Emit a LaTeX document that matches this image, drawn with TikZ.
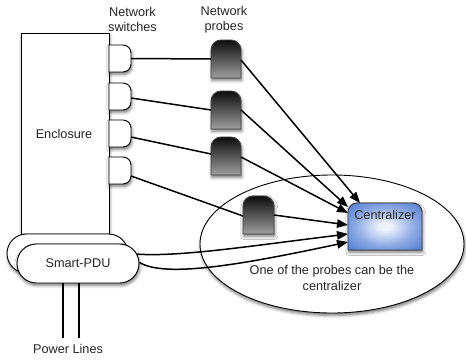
\documentclass[tikz,border=0pt]{standalone}
\usepackage{fontspec}
\setmainfont{Liberation Sans}
\usetikzlibrary{shapes.geometric,shapes.misc,arrows.meta,shadows.blur}
\definecolor{cwhite}{RGB}{238,242,253}
\definecolor{cmid}{RGB}{140,170,228}
\definecolor{cblue}{RGB}{62,108,204}
\pgfdeclareradialshading{centshade}{\pgfpoint{0bp}{0bp}}{color(0bp)=(cwhite); color(4bp)=(cwhite); color(20bp)=(cmid); color(40bp)=(cblue); color(75bp)=(cblue)}
% shape with rounded top corners, sharp bottom corners
% #1 name, #2 cx, #3 cy, #4 w, #5 h, #6 radius, #7 style
\newcommand\mkTopRound[7]{%
  \path[#7] ({#2-#4/2},{#3+#5/2}) -- ({#2-#4/2},{#3-#5/2+#6})
    .. controls ({#2-#4/2},{#3-#5/2+0.45*#6}) and ({#2-#4/2+0.45*#6},{#3-#5/2}) .. ({#2-#4/2+#6},{#3-#5/2})
    -- ({#2+#4/2-#6},{#3-#5/2})
    .. controls ({#2+#4/2-0.45*#6},{#3-#5/2}) and ({#2+#4/2},{#3-#5/2+0.45*#6}) .. ({#2+#4/2},{#3-#5/2+#6})
    -- ({#2+#4/2},{#3+#5/2}) -- cycle;
  \node[hit, minimum width=#4pt, minimum height=#5pt] (#1) at (#2,#3) {};}
% shape with rounded right corners
\newcommand\mkRightRound[7]{%
  \path[#7] ({#2-#4/2},{#3-#5/2}) -- ({#2+#4/2-#6},{#3-#5/2})
    .. controls ({#2+#4/2-0.45*#6},{#3-#5/2}) and ({#2+#4/2},{#3-#5/2+0.45*#6}) .. ({#2+#4/2},{#3-#5/2+#6})
    -- ({#2+#4/2},{#3+#5/2-#6})
    .. controls ({#2+#4/2},{#3+#5/2-0.45*#6}) and ({#2+#4/2-0.45*#6},{#3+#5/2}) .. ({#2+#4/2-#6},{#3+#5/2})
    -- ({#2-#4/2},{#3+#5/2}) -- cycle;
  \node[hit, minimum width=#4pt, minimum height=#5pt] (#1) at (#2,#3) {};}
\begin{document}
\begin{tikzpicture}[x=1pt,y=-1pt,
  txt/.style={font=\fontsize{12.7}{15.5}\selectfont, text=black!85, align=center, inner sep=0pt},
  shad/.style={blur shadow={shadow xshift=0.8pt,shadow yshift=-2.4pt,shadow blur radius=3pt,shadow opacity=55}},
  hit/.style={rectangle, inner sep=0pt, outer sep=0pt},
  box/.style={draw=black, line width=0.9pt, fill=white, shad},
  probe/.style={draw=black!75, line width=0.9pt, top color=black!95, bottom color=black!38, shad},
  cstyle/.style={draw=black!80, line width=0.9pt, shade, shading=centshade, shad},
  wire/.style={line width=1.5pt, black},
  arr/.style={wire, -{Triangle[length=11pt,width=8.5pt]}}]
\useasboundingbox (0,0) rectangle (466,362);

% zone ellipse
\node[ellipse, draw=black, line width=0.9pt, fill=white, shad, minimum width=264pt, minimum height=138pt, inner sep=0pt] (zone) at (332,244) {};
\node[txt] (zonelbl) at (332,278) {One of the probes can be the\\centralizer};

% headings
\node[txt] (swlbl) at (132.5,19.5) {Network\\switches};
\node[txt] (prlbl) at (224,19.5) {Network\\probes};

% enclosure
\node[box, rectangle, minimum width=88pt, minimum height=202pt, inner sep=0pt] (encl) at (65,134) {};
\node[txt] (encllbl) at (64,134) {Enclosure};

% switches
\mkRightRound{s1}{120}{58.5}{22}{27}{8}{box}
\mkRightRound{s2}{120}{96.5}{22}{27}{8}{box}
\mkRightRound{s3}{120}{133.5}{22}{27}{8}{box}
\mkRightRound{s4}{120}{170.5}{22}{27}{8}{box}

% smart PDU
\node[box, rounded rectangle, minimum width=121pt, minimum height=39pt, inner sep=0pt] (pduback) at (67.5,253.5) {};
\node[box, rounded rectangle, txt, minimum width=122pt, minimum height=39pt] (pdu) at (78,263.5) {Smart-PDU};

% probes
\mkTopRound{p1}{226}{59}{30}{38}{10}{probe}
\mkTopRound{p2}{226}{110}{30}{38}{10}{probe}
\mkTopRound{p3}{226}{156}{30}{38}{10}{probe}
\mkTopRound{p4}{258.5}{215}{31}{38}{10}{probe}

% centralizer
\mkTopRound{cent}{385}{226.5}{74}{47}{9}{cstyle}
\node[txt] (centlbl) at (385,214.5) {Centralizer};

% power lines
\coordinate (pl1) at (63,338);
\coordinate (pl2) at (79,338);
\node[txt] (pllbl) at (68,348.5) {Power Lines};

% connectors
\draw[wire] (s1.east) -- (p1.west);
\draw[wire] ([yshift=-1.5pt]s2.east) -- (p2.west);
\draw[wire] ([yshift=-3.5pt]s3.east) -- ([yshift=2pt]p3.west);
\draw[wire] ([yshift=-5.5pt]s4.east) -- ([yshift=-1pt]p4.west);
\draw[arr] ([yshift=-1pt]p1.east) -- ([xshift=12pt]cent.north west);
\draw[arr] (p2.east) -- ([yshift=19.5pt]cent.west);
\draw[arr] ([yshift=-1pt]p3.east) -- ([yshift=13.5pt]cent.west);
\draw[arr] (p4.east) -- ([yshift=1.5pt]cent.west);
\draw[arr] (pdu.9.8) .. controls (180,257) and (250,246) .. ([yshift=-7.5pt]cent.west);
\draw[arr] (pdu.1.9) .. controls (165,278) and (240,265) .. ([yshift=-15.5pt]cent.west);
\draw[line width=1.4pt] (pl1 |- pdu.south) -- (pl1);
\draw[line width=1.4pt] (pl2 |- pdu.south) -- (pl2);
\end{tikzpicture}
\end{document}
